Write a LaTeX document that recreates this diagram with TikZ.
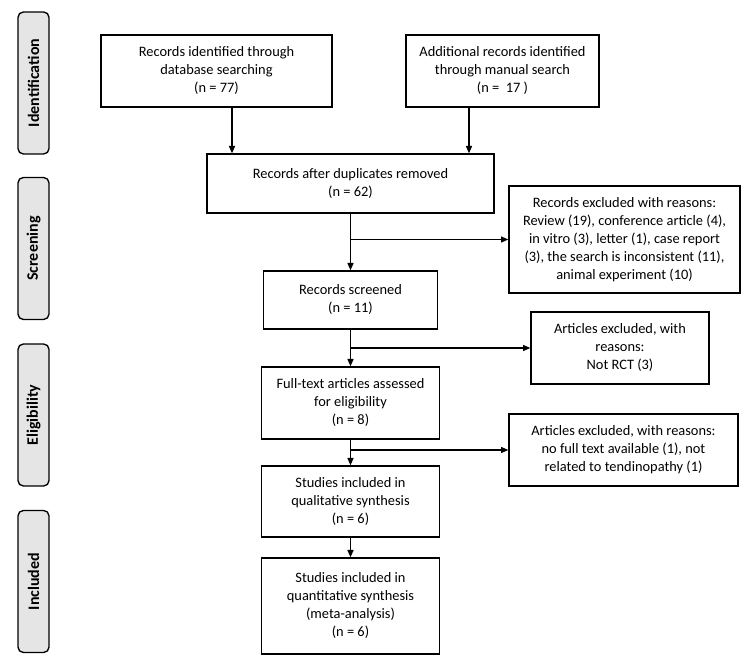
\documentclass[tikz,border=0pt]{standalone}
\usepackage{fontspec}
\setmainfont{Carlito}
\usetikzlibrary{arrows.meta}

\begin{document}
\begin{tikzpicture}[x=0.75pt, y=-0.75pt,
    box/.style={rectangle, draw=black, line width=1pt, align=center, inner sep=2pt,
      font=\fontsize{10.8}{13.5}\selectfont},
    phase/.style={rectangle, draw=black, line width=1pt, fill=gray!20, rounded corners=4pt,
      rotate=90, minimum width=106.5pt, minimum height=23.25pt,
      font=\fontsize{12}{14}\selectfont\bfseries},
    arr/.style={line width=1pt, -{Triangle[length=5.5pt,width=4.5pt]}}]
  \useasboundingbox (0,0) rectangle (751,666);

  % phase labels
  \node[phase] (identification) at (33.5,83) {Identification};
  \node[phase] (screening) at (33.5,248.5) {Screening};
  \node[phase] (eligibility) at (33.5,415) {Eligibility};
  \node[phase] (included) at (33.5,581.5) {Included};

  % main boxes
  \node[box, minimum width=173.25pt, minimum height=54pt] (database) at (216.5,71)
    {Records identified through\\database searching\\(n = 77)};
  \node[box, minimum width=144.75pt, minimum height=54pt] (manual) at (502.5,71)
    {Additional records identified\\through manual search\\(n =\ \ 17 )};
  \node[box, minimum width=215.25pt, minimum height=44.25pt] (duplicates) at (350.5,183.5)
    {Records after duplicates removed\\(n = 62)};
  \node[box, minimum width=130.5pt, minimum height=43.5pt] (screened) at (350.5,300)
    {Records screened\\(n = 11)};
  \node[box, minimum width=133.5pt, minimum height=54pt] (fulltext) at (350.5,403)
    {Full-text articles assessed\\for eligibility\\(n = 8)};
  \node[box, minimum width=133.5pt, minimum height=53.25pt] (qualitative) at (350.5,501.5)
    {Studies included in\\qualitative synthesis\\(n = 6)};
  \node[box, minimum width=133.5pt, minimum height=72pt] (quantitative) at (350.5,606)
    {Studies included in\\quantitative synthesis\\(meta-analysis)\\(n = 6)};

  % exclusion boxes
  \node[box, minimum width=173.25pt, minimum height=80.25pt] (excluded1) at (624.5,239.5)
    {Records excluded with reasons:\\Review (19), conference article (4),\\in vitro (3), letter (1), case report\\(3), the search is inconsistent (11),\\animal experiment (10)};
  \node[box, minimum width=133.5pt, minimum height=54pt] (excluded2) at (620,348)
    {Articles excluded, with\\reasons:\\Not RCT (3)};
  \node[box, minimum width=171.75pt, minimum height=54pt] (excluded3) at (623.5,450)
    {Articles excluded, with reasons:\\no full text available (1), not\\related to tendinopathy (1)};

  % connectors
  \coordinate (left) at (232,0);
  \coordinate (right) at (469,0);
  \draw[arr] (left |- database.south) -- (left |- duplicates.north);
  \draw[arr] (right |- manual.south) -- (right |- duplicates.north);
  \draw[arr] (duplicates) -- (screened);
  \draw[arr] (screened) -- (fulltext);
  \draw[arr] (fulltext) -- (qualitative);
  \draw[arr] (qualitative) -- (quantitative);
  \draw[arr] (duplicates.south |- excluded1.west) -- (excluded1.west);
  \draw[arr] (screened.south |- excluded2.west) -- (excluded2.west);
  \draw[arr] (fulltext.south |- excluded3.west) -- (excluded3.west);
\end{tikzpicture}
\end{document}
